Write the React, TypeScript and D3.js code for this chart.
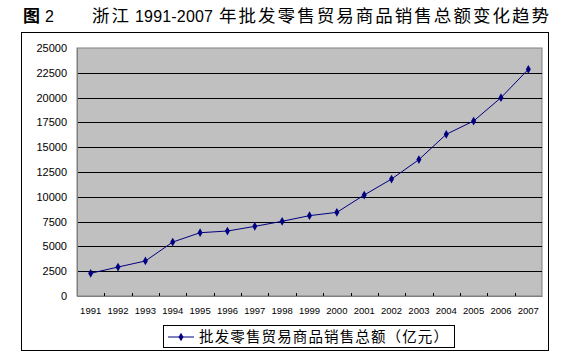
import { useEffect, useRef } from "react"
import * as d3 from "d3"

const years = [
  "1991", "1992", "1993", "1994", "1995", "1996", "1997", "1998", "1999",
  "2000", "2001", "2002", "2003", "2004", "2005", "2006", "2007",
]
const sales = [
  2290, 2920, 3530, 5440, 6380, 6550, 7020, 7530, 8100,
  8430, 10180, 11790, 13750, 16300, 17640, 19990, 22850,
]
const yTicks = [0, 2500, 5000, 7500, 10000, 12500, 15000, 17500, 20000, 22500, 25000]
const figLabel = "图"
const figNum = "2"
const titleParts = ["浙江", "1991-2007", "年批发零售贸易商品销售总额变化趋势"]
const seriesName = "批发零售贸易商品销售总额（亿元）"

const W = 570
const H = 364

const App = () => {
  const svgRef = useRef<SVGSVGElement>(null)

  useEffect(() => {
    const svg = d3.select(svgRef.current)
    svg.selectAll("*").remove()

    const plot = { left: 77, right: 542, top: 48, bottom: 296 }
    const navy = "#000080"
    const numFont = "'Liberation Sans', Arial, sans-serif"
    const cjkFont = "'Noto Sans CJK SC', sans-serif"

    svg.append("rect").attr("width", W).attr("height", H).attr("fill", "#fff")

    // title
    svg.append("text")
      .attr("x", 23).attr("y", 22)
      .attr("font-family", cjkFont).attr("font-size", 17).attr("font-weight", "bold")
      .text(figLabel)
    svg.append("text")
      .attr("x", 45).attr("y", 22)
      .attr("font-family", numFont).attr("font-size", 16)
      .text(figNum)
    const titlePos = [
      { x: 92, len: 37 },
      { x: 135, len: 78 },
      { x: 219, len: 330 },
    ]
    titleParts.forEach((t, i) => {
      svg.append("text")
        .attr("x", titlePos[i].x).attr("y", 22)
        .attr("font-family", i === 1 ? numFont : cjkFont)
        .attr("font-size", i === 1 ? 16 : 17.5)
        .attr("textLength", titlePos[i].len).attr("lengthAdjust", "spacing")
        .text(t)
    })

    // chart frame
    svg.append("rect")
      .attr("x", 21.5).attr("y", 32.5).attr("width", 527).attr("height", 318)
      .attr("fill", "#fff").attr("stroke", "#000").attr("stroke-width", 1)

    const x = d3.scaleBand().domain(years).range([plot.left, plot.right])
    const y = d3.scaleLinear().domain([0, 25000]).range([plot.bottom, plot.top])

    svg.append("rect")
      .attr("x", plot.left).attr("y", plot.top)
      .attr("width", plot.right - plot.left).attr("height", plot.bottom - plot.top)
      .attr("fill", "#c0c0c0").attr("stroke", "#808080")

    // gridlines
    svg.append("g")
      .selectAll("line")
      .data(yTicks.filter((t) => t > 0 && t < 25000))
      .enter()
      .append("line")
      .attr("x1", plot.left).attr("x2", plot.right)
      .attr("y1", (d) => Math.round(y(d)) + 0.5).attr("y2", (d) => Math.round(y(d)) + 0.5)
      .attr("stroke", "#000")

    // axes
    const yAxis = svg.append("g")
      .attr("transform", `translate(${plot.left},0)`)
      .call(d3.axisLeft(y).tickValues(yTicks).tickFormat(d3.format("d")).tickSize(0).tickPadding(10))
    yAxis.select(".domain").attr("stroke", "#808080")
    yAxis.selectAll("text")
      .attr("font-family", numFont).attr("font-size", 11).attr("fill", "#000")

    const xAxis = svg.append("g")
      .attr("transform", `translate(0,${plot.bottom})`)
      .call(d3.axisBottom(x).tickSize(0).tickPadding(11))
    xAxis.select(".domain").attr("stroke", "#808080")
    xAxis.selectAll("text")
      .attr("font-family", numFont).attr("font-size", 9.5).attr("fill", "#000")
    svg.append("g")
      .selectAll("line")
      .data(years.slice(1))
      .enter()
      .append("line")
      .attr("x1", (d) => Math.round(x(d)!) + 0.5).attr("x2", (d) => Math.round(x(d)!) + 0.5)
      .attr("y1", plot.bottom - 3).attr("y2", plot.bottom)
      .attr("stroke", "#000")

    // series
    const cx = (d: string) => x(d)! + x.bandwidth() / 2
    const line = d3.line<number>()
      .x((_, i) => cx(years[i]))
      .y((d) => y(d))
    svg.append("path")
      .datum(sales)
      .attr("d", line)
      .attr("fill", "none").attr("stroke", navy).attr("stroke-width", 1)

    const diamond = d3.symbol().type(d3.symbolDiamond).size(22)
    svg.append("g")
      .selectAll("path")
      .data(sales)
      .enter()
      .append("path")
      .attr("d", diamond)
      .attr("transform", (d, i) => `translate(${cx(years[i])},${y(d)})`)
      .attr("fill", navy)

    // legend
    const lg = svg.append("g")
    lg.append("rect")
      .attr("x", 163.5).attr("y", 325.5).attr("width", 291).attr("height", 22)
      .attr("fill", "#fff").attr("stroke", "#000")
    lg.append("line")
      .attr("x1", 168).attr("x2", 194).attr("y1", 337).attr("y2", 337)
      .attr("stroke", navy)
    lg.append("path")
      .attr("d", diamond)
      .attr("transform", "translate(181,337)")
      .attr("fill", navy)
    lg.append("text")
      .attr("x", 199).attr("y", 342)
      .attr("font-family", cjkFont).attr("font-size", 14.5)
      .attr("textLength", 249).attr("lengthAdjust", "spacing")
      .text(seriesName)
  }, [])

  return (
    <div style={{ position: "fixed", left: 0, top: 0 }}>
      <svg ref={svgRef} width={W} height={H} style={{ display: "block" }}></svg>
    </div>
  )
}

export default App
